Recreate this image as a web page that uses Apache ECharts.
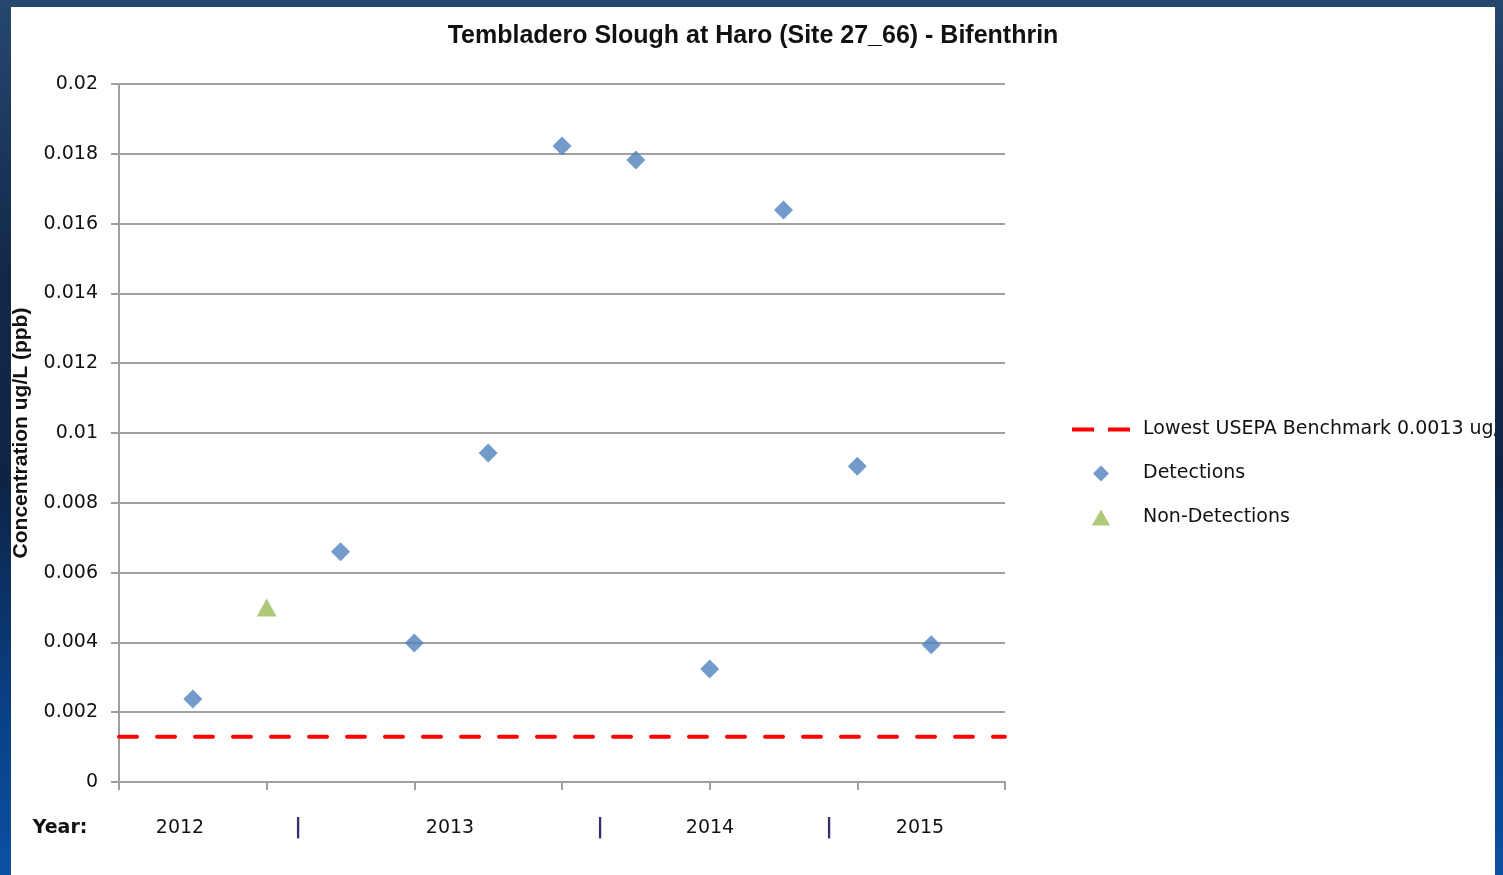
<!DOCTYPE html>
<html>
<head>
<meta charset="utf-8">
<script src="https://cdn.jsdelivr.net/npm/echarts@6/dist/echarts.min.js"></script>
<style>
  html, body { margin: 0; padding: 0; width: 1503px; height: 875px; overflow: hidden; }
  body { background: linear-gradient(to bottom, #26486f 0%, #13294a 30%, #0d2445 55%, #0a3f82 80%, #0b51a3 100%); }
  #chart { position: absolute; left: 11px; top: 7px; width: 1484px; height: 868px; background: #ffffff; }
</style>
</head>
<body>
<div id="chart"></div>
<script>
// sample positions (half-steps between the axis ticks)
var detX = [1, 3, 4, 5, 6, 7, 8, 9, 10, 11];
var detY = [0.00238, 0.0066, 0.00398, 0.00943, 0.01822, 0.01782, 0.00324, 0.01639, 0.00905, 0.00393];
var nonDetX = [2];
var nonDetY = [0.005];
var benchmark = 0.0013;
var xRange = [0, 12];
var yearLabels = ['2012', '|', '2013', '|', '2014', '|', '2015'];
var yearPos = [169, 287, 439, 589, 699, 818, 909];

var chart = echarts.init(document.getElementById('chart'));
var font = '"DejaVu Sans", sans-serif';
var boldFont = '"Liberation Sans", Arial, sans-serif';

// year row under the axis
var yearText = yearLabels.map(function (t, i) {
    return {
        type: 'text', x: yearPos[i], y: 821,
        style: {
            text: t, font: (t === '|' ? 'bold 21px ' : '19px ') + font,
            fill: t === '|' ? '#3b2c6b' : '#111', align: 'center', verticalAlign: 'middle'
        }
    };
});
yearText.push({
    type: 'text', x: 49, y: 821,
    style: { text: 'Year:', font: 'bold 19px ' + font, fill: '#111', align: 'center', verticalAlign: 'middle' }
});

var option = {
    animation: false,
    title: {
        text: 'Tembladero Slough at Haro (Site 27_66) - Bifenthrin',
        left: 'center', top: 12,
        textStyle: { fontFamily: boldFont, fontWeight: 'bold', fontSize: 25, color: '#111' }
    },
    grid: { left: 108, right: 490, top: 77, bottom: 93, outerBoundsMode: 'none' },
    legend: {
        orient: 'vertical', left: 1056, top: 408,
        itemWidth: 58, itemHeight: 16, itemGap: 25,
        textStyle: { fontFamily: font, fontSize: 19, color: '#111', padding: [0, 0, 0, 8] },
        data: [
            { name: 'Lowest USEPA Benchmark 0.0013 ug/L', icon: 'path://M0,0H22V4H0Z M36,0H58V4H36Z' },
            { name: 'Detections', icon: 'path://M7,0L14,7L7,14L0,7Z' },
            { name: 'Non-Detections', icon: 'path://M8,0L16,14L0,14Z' }
        ]
    },
    xAxis: {
        type: 'value', min: xRange[0], max: xRange[1], interval: 2,
        axisLine: { show: true, lineStyle: { color: '#a0a0a0', width: 2 } },
        axisTick: { show: true, length: 8, lineStyle: { color: '#a0a0a0', width: 2 } },
        axisLabel: { show: false },
        splitLine: { show: false }
    },
    yAxis: {
        type: 'value', min: 0, max: 0.02, interval: 0.002,
        name: 'Concentration ug/L (ppb)', nameLocation: 'middle', nameGap: 87, nameRotate: 90,
        nameTextStyle: { fontFamily: boldFont, fontWeight: 'bold', fontSize: 21, color: '#111' },
        axisLine: { show: true, lineStyle: { color: '#a0a0a0', width: 2 } },
        axisTick: { show: true, length: 8, lineStyle: { color: '#a0a0a0', width: 2 } },
        axisLabel: {
            fontFamily: font, fontSize: 19, color: '#111', margin: 21,
            formatter: function (v) { return String(+v.toFixed(3)); }
        },
        splitLine: { show: true, lineStyle: { color: '#a0a0a0', width: 2 } }
    },
    graphic: yearText,
    series: [
        {
            name: 'Lowest USEPA Benchmark 0.0013 ug/L', type: 'line',
            data: [[xRange[0], benchmark], [xRange[1], benchmark]],
            symbol: 'none', z: 1,
            itemStyle: { color: '#ff0000' },
            lineStyle: { color: '#ff0000', width: 4, type: [18, 20], cap: 'round' }
        },
        {
            name: 'Detections', type: 'scatter',
            data: detX.map(function (x, i) { return [x, detY[i]]; }),
            symbol: 'diamond', symbolSize: 19, z: 3,
            itemStyle: { color: '#4f81bd' }
        },
        {
            name: 'Non-Detections', type: 'scatter',
            data: nonDetX.map(function (x, i) { return [x, nonDetY[i]]; }),
            symbol: 'triangle', symbolSize: [20, 18], z: 3,
            itemStyle: { color: '#9bbb59' }
        }
    ]
};
chart.setOption(option);
</script>
</body>
</html>
